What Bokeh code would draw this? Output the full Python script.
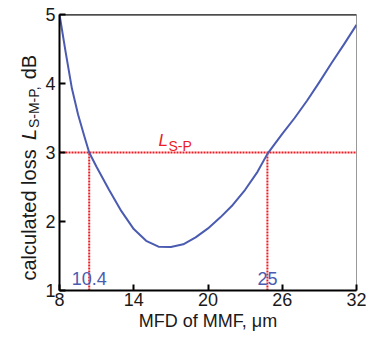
import math
from bokeh.plotting import figure
from bokeh.layouts import row
from bokeh.models import Label, Span, Range1d, FixedTicker, ColumnDataSource
from bokeh.core.properties import value
from bokeh.embed import file_html
from bokeh.resources import INLINE

# --- data ---
mfd = [8, 8.5, 9, 9.5, 10, 10.4, 11, 12, 13, 14, 15, 16, 17, 18, 19, 20,
       21, 22, 23, 24, 24.8, 26, 27, 28, 29, 30, 31, 32]
loss = [5.0, 4.45, 3.93, 3.55, 3.24, 3.0, 2.79, 2.46, 2.15, 1.89, 1.72, 1.635,
        1.63, 1.67, 1.77, 1.90, 2.06, 2.24, 2.46, 2.72, 2.98, 3.27, 3.50,
        3.75, 4.02, 4.30, 4.57, 4.85]
threshold = 3.0
crossings = [10.4, 24.8]
crossing_labels = ["10.4", "25"]
x_ticks = [8, 14, 20, 26, 32]
y_ticks = [1, 2, 3, 4, 5]

BLUE = "#4a5bb1"
RED = "#ec1c24"
TXT = "#1a1a1a"
FONT = "Liberation Sans"

H = 333
TOP = 14
BOTTOM = 42
LEFT_W = 42

p = figure(width=366 - LEFT_W, height=H, x_range=Range1d(8, 32), y_range=Range1d(1, 5),
           output_backend="svg", toolbar_location=None,
           min_border_left=0, min_border_right=10, min_border_top=TOP,
           min_border_bottom=BOTTOM)
p.grid.visible = False
p.background_fill_color = "white"
p.border_fill_color = "white"
p.outline_line_color = "#999999"
p.outline_line_width = 1

for ax in (p.xaxis, p.yaxis):
    ax.axis_line_width = 2
    ax.axis_line_color = "black"
    ax.major_tick_line_width = 2
    ax.major_tick_line_color = "black"
    ax.major_tick_in = 6
    ax.major_tick_out = 0
    ax.minor_tick_line_color = None
    ax.major_label_text_font = FONT
    ax.major_label_text_font_size = "18px"
    ax.major_label_text_color = TXT

p.xaxis.ticker = FixedTicker(ticks=x_ticks)
p.yaxis.ticker = FixedTicker(ticks=y_ticks)
p.xaxis.major_label_standoff = 2
p.yaxis.major_label_standoff = 4
p.xaxis.axis_label = "MFD of MMF, μm"
p.xaxis.axis_label_text_font = FONT
p.xaxis.axis_label_text_font_size = "18px"
p.xaxis.axis_label_text_font_style = "normal"
p.xaxis.axis_label_text_color = TXT
p.xaxis.axis_label_standoff = 2

# top border (black)
p.add_layout(Span(location=5, dimension="width", line_color="black", line_width=2))

# threshold and crossing lines
p.line(x=[8, 32], y=[threshold, threshold], line_color=RED, line_width=2,
       line_dash="2 1")
for xc in crossings:
    p.line(x=[xc, xc], y=[1, threshold], line_color=RED, line_width=2,
           line_dash="2 1")

# curve
src = ColumnDataSource(data=dict(x=mfd, y=loss))
p.line("x", "y", source=src, line_color=BLUE, line_width=2, line_join="round")

# crossing value labels
for xc, lab in zip(crossings, crossing_labels):
    p.add_layout(Label(x=xc, y=1.18, text=lab, text_align="center",
                       text_baseline="middle", text_color=BLUE,
                       text_font=FONT, text_font_size="18px"))

# L_S-P label
p.add_layout(Label(x=16.0, y=3.17, text="L", text_font=FONT,
                   text_font_style="italic", text_font_size="17px",
                   text_color=RED, text_baseline="alphabetic"))
p.add_layout(Label(x=16.0, y=3.17, x_offset=10, y_offset=-5, text="S-P",
                   text_font=FONT, text_font_size="14px", text_color=RED,
                   text_baseline="alphabetic"))

# left strip holding the rotated y-axis title (with subscript)
frame_h = H - TOP - BOTTOM
lf = figure(width=LEFT_W, height=H, x_range=Range1d(0, LEFT_W),
            y_range=Range1d(0, frame_h), output_backend="svg",
            toolbar_location=None, x_axis_location=None, y_axis_location=None,
            min_border_left=0, min_border_right=0, min_border_top=TOP,
            min_border_bottom=BOTTOM)
lf.grid.visible = False
lf.outline_line_color = None
lf.background_fill_color = "white"
lf.border_fill_color = "white"

ang = math.pi / 2
base_x = 28
pieces = [("calculated loss", "normal", "20px", 10, 0),
          ("L", "italic", "20px", 151, 0),
          ("S-M-P,", "normal", "14px", 163, 5),
          ("dB", "normal", "20px", 212, 0)]
for txt, style, fs, off, sub in pieces:
    lf.text(x=[base_x + sub], y=[off], text=[txt], angle=ang,
            text_font=value(FONT), text_font_style=style,
            text_font_size=fs, text_color=TXT,
            text_baseline="alphabetic", text_align="left")

layout = row(lf, p, spacing=0)
open("out.html", "w").write(file_html(layout, INLINE))
